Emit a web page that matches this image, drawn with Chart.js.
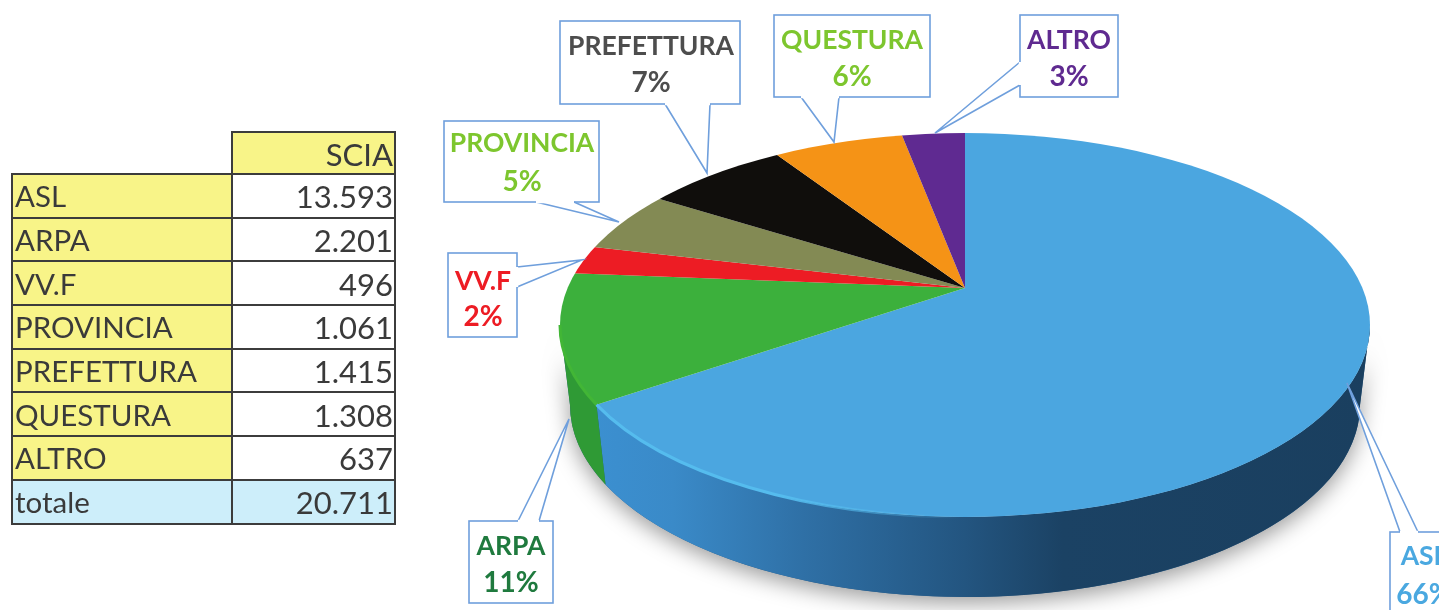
<!DOCTYPE html>
<html>
<head>
<meta charset="utf-8">
<title>SCIA</title>
<script src="https://cdn.jsdelivr.net/npm/chart.js@4/dist/chart.umd.min.js"></script>
<style>
    html, body { margin: 0; padding: 0; background: #fff; overflow: hidden; }
    #wrap { position: relative; width: 1439px; height: 610px; overflow: hidden; }
    #torta { position: absolute; left: 0; top: 0; filter: blur(0.6px); }
    #tabella {
        position: absolute; left: 11px; top: 131px;
        border-collapse: collapse; table-layout: fixed;
        font-family: Lato, sans-serif; color: #3a3a3a;
        filter: blur(0.5px);
    }
    #tabella td { border: 2px solid #3c3c3c; padding: 1px 2px 0 2px; height: 40.7px; line-height: 38px; white-space: nowrap; overflow: hidden; box-sizing: content-box; }
    #tabella tr:first-child td { height: 39px; }
    #tabella td.nome { width: 214px; background: #f8f488; font-size: 29.5px; }
    #tabella td.val { width: 158px; padding-right: 1px; background: #fff; text-align: right; font-size: 31px; }
    #tabella td.vuota { border: none; background: #fff; }
    #tabella td.giallo { background: #f8f488; }
    #tabella td.azzurro { background: #cdeefa; }
</style>
</head>
<body>
<div id="wrap">
    <table id="tabella"></table>
    <canvas id="torta" width="1439" height="610"></canvas>
</div>
<script>
const categorie = ['ASL', 'ARPA', 'VV.F', 'PROVINCIA', 'PREFETTURA', 'QUESTURA', 'ALTRO'];
const valoriScia = [13593, 2201, 496, 1061, 1415, 1308, 637];
const percentuali = [66, 11, 2, 5, 7, 6, 3];
const totale = 20711;
const intestazione = 'SCIA';
const etichettaTotale = 'totale';

const coloriFetta = ['#4ba6e0', '#3cb03c', '#ed1c24', '#838a54', '#100e0c', '#f59316', '#5f2a91'];
const coloriTesto = ['#4aa8e0', '#1f7a3e', '#ed1c24', '#7dc62e', '#4d4d4d', '#7dc62e', '#5f2a90'];

// Geometria della torta "3D": ellisse del piano superiore e del fondo
const ELLISSE = { cx: 965, cy: 325, rx: 405, ry: 192 };
const FONDO = { cx: 965, cy: 405, rx: 395, ry: 192 };
const SCALA_X = 405 / 192;

// Riquadri dei callout: x, y, larghezza, altezza, coda (3 punti), centro testo e due righe
const callout = [
    { b: [1390, 532, 110, 90], coda: [[1400, 532], [1347, 383], [1418, 532]], tx: 1424, ty: [555, 594] },
    { b: [469, 521, 84, 82], coda: [[518, 521], [569, 419], [539, 521]], tx: 511, ty: [545, 582] },
    { b: [448, 253, 69, 84], coda: [[517, 267], [582, 260], [517, 287]], tx: 483, ty: [280, 316] },
    { b: [444, 121, 155, 81], coda: [[536, 202], [619, 222], [574, 202]], tx: 522, ty: [142, 181] },
    { b: [560, 21, 180, 83], coda: [[665, 104], [707, 173], [710, 104]], tx: 651, ty: [45, 82] },
    { b: [774, 15, 156, 82], coda: [[801, 97], [834, 142], [839, 97]], tx: 852, ty: [39, 76] },
    { b: [1020, 15, 98, 82], coda: [[1020, 62], [935, 133], [1020, 85]], tx: 1069, ty: [39, 76] }
];

function formatta(n) {
    return String(n).replace(/\B(?=(\d{3})+$)/g, '.');
}

function costruisciTabella() {
    let html = `<tr><td class="vuota nome"></td><td class="val giallo">${intestazione}</td></tr>`;
    categorie.forEach((c, i) => {
        html += `<tr><td class="nome">${c}</td><td class="val">${formatta(valoriScia[i])}</td></tr>`;
    });
    html += `<tr><td class="nome azzurro">${etichettaTotale}</td><td class="val azzurro">${formatta(totale)}</td></tr>`;
    document.getElementById('tabella').innerHTML = html;
}

// Angolo sull'ellisse dove il raggio di una fetta incontra il bordo
function angoloSulBordo(arc, a) {
    const u0 = (arc.x - ELLISSE.cx) / ELLISSE.rx;
    const v0 = (arc.y - ELLISSE.cy) / ELLISSE.ry;
    const du = Math.cos(a) * SCALA_X / ELLISSE.rx;
    const dv = Math.sin(a) / ELLISSE.ry;
    const A = du * du + dv * dv;
    const B = 2 * (u0 * du + v0 * dv);
    const C = u0 * u0 + v0 * v0 - 1;
    const t = (-B + Math.sqrt(B * B - 4 * A * C)) / (2 * A);
    return Math.atan2(v0 + dv * t, u0 + du * t);
}

function pathParete(ctx, f1, f2) {
    const e = ELLISSE, b = FONDO;
    ctx.beginPath();
    ctx.ellipse(e.cx, e.cy, e.rx, e.ry, 0, f1, f2);
    ctx.ellipse(b.cx, b.cy, b.rx, b.ry, 0, f2, f1, true);
    ctx.closePath();
}

const torta3d = {
    id: 'torta3d',
    beforeDatasetsDraw(chart) {
        const ctx = chart.ctx;
        const e = ELLISSE;
        const archi = chart.getDatasetMeta(0).data;

        // ombra sotto la torta
        ctx.save();
        ctx.shadowColor = 'rgba(0,0,0,0.4)';
        ctx.shadowBlur = 22;
        ctx.shadowOffsetY = 6;
        ctx.fillStyle = '#2a5c88';
        pathParete(ctx, 0, Math.PI);
        ctx.fill();
        ctx.restore();

        // pareti laterali visibili, solo metà anteriore
        const grad = ctx.createLinearGradient(e.cx - e.rx, 0, e.cx + e.rx, 0);
        grad.addColorStop(0, '#3c92d4');
        grad.addColorStop(0.14, '#3a8ac8');
        grad.addColorStop(0.3, '#2f70a6');
        grad.addColorStop(0.5, '#235580');
        grad.addColorStop(0.62, '#1b4264');
        grad.addColorStop(1, '#1a3f5f');
        archi.forEach((arc, i) => {
            let f0 = angoloSulBordo(arc, arc.startAngle);
            let f1 = angoloSulBordo(arc, arc.endAngle);
            if (f0 < -Math.PI / 2) f0 += 2 * Math.PI;
            if (f1 < -Math.PI / 2 + 1e-6) f1 += 2 * Math.PI;
            const da = Math.max(f0, 0);
            const fino = Math.min(f1, Math.PI);
            if (fino <= da) return;
            ctx.fillStyle = i === 0 ? grad : '#2f9a35';
            pathParete(ctx, da, fino);
            ctx.fill();
        });

        // le fette vengono disegnate da Chart.js dentro il piano ellittico
        ctx.save();
        ctx.beginPath();
        ctx.ellipse(e.cx, e.cy, e.rx, e.ry, 0, 0, Math.PI * 2);
        ctx.clip();
        const ax = archi[0].x;
        ctx.translate(ax, 0);
        ctx.scale(SCALA_X, 1);
        ctx.translate(-ax, 0);
    },
    afterDatasetsDraw(chart) {
        const ctx = chart.ctx;
        const e = ELLISSE;
        ctx.restore();

        // riflesso chiaro sullo spigolo anteriore sinistro
        const arc = chart.getDatasetMeta(0).data[0];
        let fine = angoloSulBordo(arc, arc.endAngle);
        if (fine < 0) fine += 2 * Math.PI;
        const luce = ctx.createLinearGradient(600, 0, 960, 0);
        luce.addColorStop(0, '#55bcee');
        luce.addColorStop(0.5, '#55bcee');
        luce.addColorStop(1, 'rgba(85,188,238,0)');
        ctx.strokeStyle = luce;
        ctx.lineWidth = 3;
        ctx.beginPath();
        ctx.ellipse(e.cx, e.cy, e.rx, e.ry, 0, 1.55, fine);
        ctx.stroke();
        ctx.strokeStyle = '#42b636';
        ctx.beginPath();
        ctx.ellipse(e.cx, e.cy, e.rx, e.ry, 0, fine, Math.PI);
        ctx.stroke();

        // callout con nome e percentuale
        ctx.textAlign = 'center';
        ctx.textBaseline = 'middle';
        callout.forEach((c, i) => {
            const [x, y, w, h] = c.b;
            ctx.fillStyle = '#fff';
            ctx.fillRect(x, y, w, h);
            ctx.beginPath();
            ctx.moveTo(c.coda[0][0], c.coda[0][1]);
            ctx.lineTo(c.coda[1][0], c.coda[1][1]);
            ctx.lineTo(c.coda[2][0], c.coda[2][1]);
            ctx.closePath();
            ctx.fill();
            ctx.strokeStyle = '#6f9fdc';
            ctx.lineWidth = 1.6;
            ctx.strokeRect(x, y, w, h);
            ctx.beginPath();
            ctx.moveTo(c.coda[0][0], c.coda[0][1]);
            ctx.lineTo(c.coda[1][0], c.coda[1][1]);
            ctx.lineTo(c.coda[2][0], c.coda[2][1]);
            ctx.stroke();
            // cancella il tratto di bordo sotto la coda
            ctx.strokeStyle = '#fff';
            ctx.lineWidth = 2.4;
            ctx.beginPath();
            ctx.moveTo(c.coda[0][0], c.coda[0][1]);
            ctx.lineTo(c.coda[2][0], c.coda[2][1]);
            ctx.stroke();

            ctx.fillStyle = coloriTesto[i];
            ctx.font = 'bold 26.5px Lato, sans-serif';
            ctx.fillText(categorie[i], c.tx, c.ty[0] + 1);
            ctx.font = 'bold 28px Lato, sans-serif';
            ctx.fillText(percentuali[i] + '%', c.tx, c.ty[1] + 1);
        });
    }
};

costruisciTabella();

new Chart(document.getElementById('torta').getContext('2d'), {
    type: 'pie',
    data: {
        labels: categorie,
        datasets: [{
            data: valoriScia,
            backgroundColor: coloriFetta,
            borderWidth: 0,
            clip: false
        }]
    },
    options: {
        responsive: false,
        animation: false,
        // area di 480x480 centrata sull'apice della torta (965, 288)
        layout: { padding: { left: 725, right: 234, top: 48, bottom: 82 } },
        plugins: {
            legend: { display: false },
            tooltip: { enabled: false }
        }
    },
    plugins: [torta3d]
});
</script>
</body>
</html>
